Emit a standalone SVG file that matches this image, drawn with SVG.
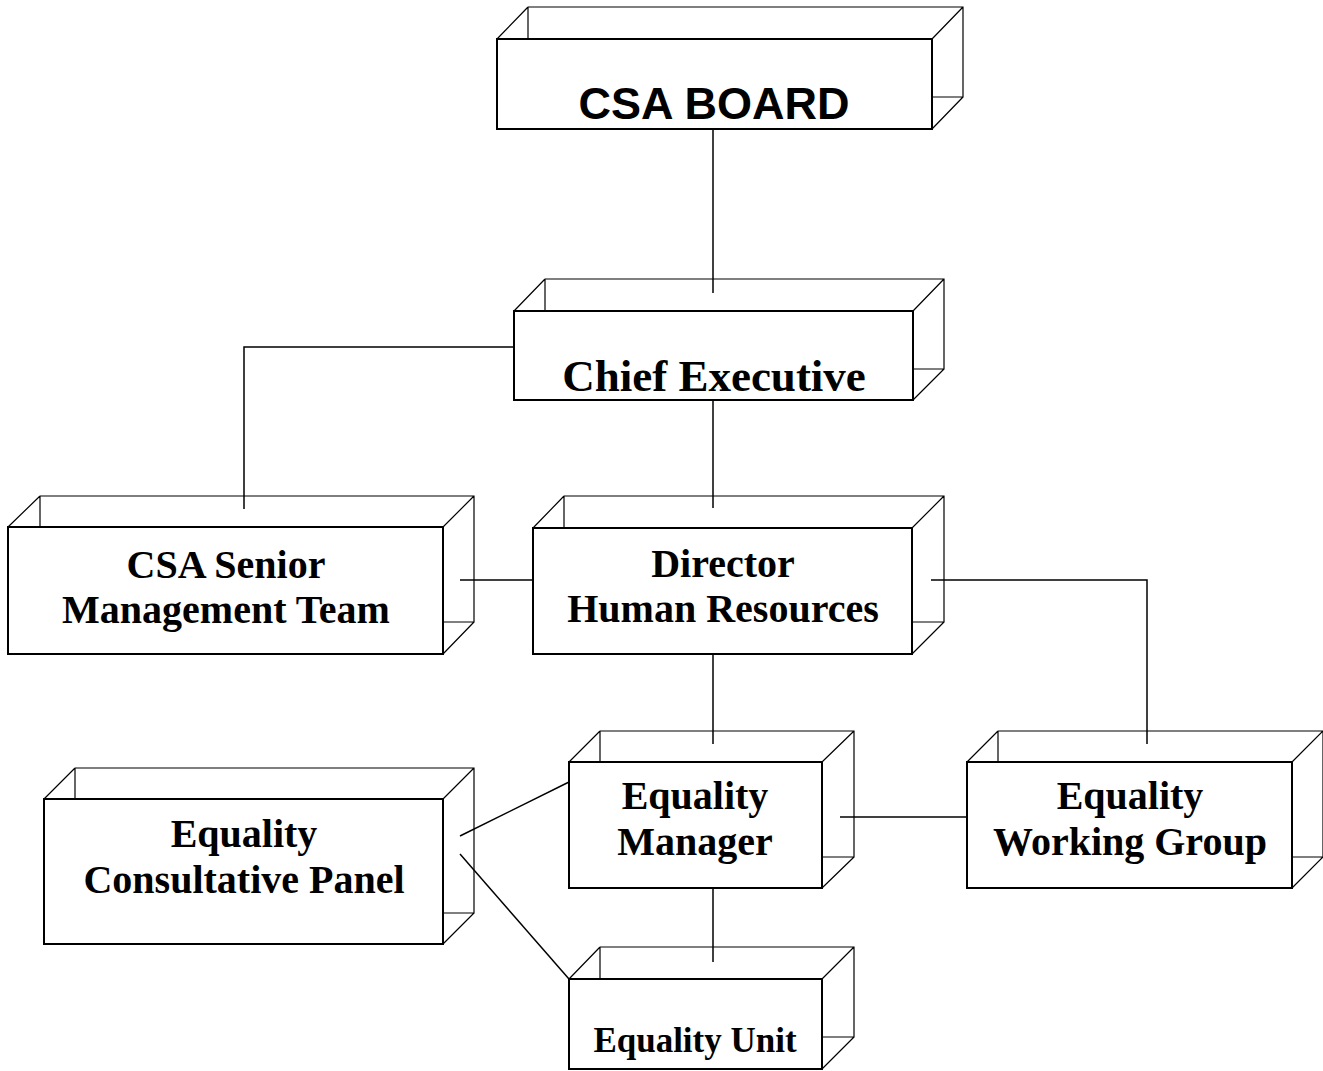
<svg xmlns="http://www.w3.org/2000/svg" width="1323" height="1071" viewBox="0 0 1323 1071">
<style>
.back{fill:none;stroke:#000;stroke-width:1.2}
.front{fill:#fff;stroke:#000;stroke-width:2}
.conn{fill:none;stroke:#000;stroke-width:1.5}
.t{font-family:"Liberation Serif","Times New Roman",serif;font-weight:bold;font-size:40px;text-anchor:middle;fill:#000}
.a{font-family:"Liberation Sans",Arial,sans-serif;font-weight:bold;font-size:45px;text-anchor:middle;fill:#000}
</style>
<rect width="1323" height="1071" fill="#fff"/>
<g id="connectors">
<line class="conn" x1="713" y1="129" x2="713" y2="293"/>
<line class="conn" x1="713" y1="400" x2="713" y2="508"/>
<polyline class="conn" points="514,347 244,347 244,509"/>
<line class="conn" x1="460" y1="580" x2="533" y2="580"/>
<polyline class="conn" points="931,580 1147,580 1147,744"/>
<line class="conn" x1="713" y1="654" x2="713" y2="744"/>
<line class="conn" x1="840" y1="817" x2="967" y2="817"/>
<line class="conn" x1="460" y1="836" x2="569" y2="782"/>
<line class="conn" x1="460" y1="854" x2="569" y2="979"/>
<line class="conn" x1="713" y1="888" x2="713" y2="962"/>
</g>
<g id="csa-board">
<path class="back" d="M528,7H963V97H932M497,39L528,7M528,7V39M932,39L963,7M932,129L963,97"/>
<rect class="front" x="497" y="39" width="435" height="90"/>
<text class="a" x="714" y="119">CSA BOARD</text>
</g>
<g id="chief-executive">
<path class="back" d="M545,279H944V369H913M514,311L545,279M545,279V311M913,311L944,279M913,400L944,369"/>
<rect class="front" x="514" y="311" width="399" height="89"/>
<text class="t" x="714" y="391" style="font-size:45px">Chief Executive</text>
</g>
<g id="senior-management">
<path class="back" d="M40,496H474V622H443M8,527L40,496M40,496V527M443,527L474,496M443,654L474,622"/>
<rect class="front" x="8" y="527" width="435" height="127"/>
<text class="t" x="226" y="578">CSA Senior</text>
<text class="t" x="226" y="623">Management Team</text>
</g>
<g id="director-hr">
<path class="back" d="M564,496H944V622H912M533,528L564,496M564,496V528M912,528L944,496M912,654L944,622"/>
<rect class="front" x="533" y="528" width="379" height="126"/>
<text class="t" x="723" y="577">Director</text>
<text class="t" x="723" y="622">Human Resources</text>
</g>
<g id="equality-manager">
<path class="back" d="M600,731H854V857H822M569,762L600,731M600,731V762M822,762L854,731M822,888L854,857"/>
<rect class="front" x="569" y="762" width="253" height="126"/>
<text class="t" x="695" y="809">Equality</text>
<text class="t" x="695" y="855">Manager</text>
</g>
<g id="equality-working-group">
<path class="back" d="M998,731H1323V857H1292M967,762L998,731M998,731V762M1292,762L1323,731M1292,888L1323,857"/>
<rect class="front" x="967" y="762" width="325" height="126"/>
<text class="t" x="1130" y="809">Equality</text>
<text class="t" x="1130" y="855">Working Group</text>
</g>
<g id="equality-consultative-panel">
<path class="back" d="M75,768H474V913H443M44,799L75,768M75,768V799M443,799L474,768M443,944L474,913"/>
<rect class="front" x="44" y="799" width="399" height="145"/>
<text class="t" x="244" y="847">Equality</text>
<text class="t" x="244" y="893">Consultative Panel</text>
</g>
<g id="equality-unit">
<path class="back" d="M600,947H854V1037H822M569,979L600,947M600,947V979M822,979L854,947M822,1069L854,1037"/>
<rect class="front" x="569" y="979" width="253" height="90"/>
<text class="t" x="695" y="1052" style="font-size:35px">Equality Unit</text>
</g>
</svg>
